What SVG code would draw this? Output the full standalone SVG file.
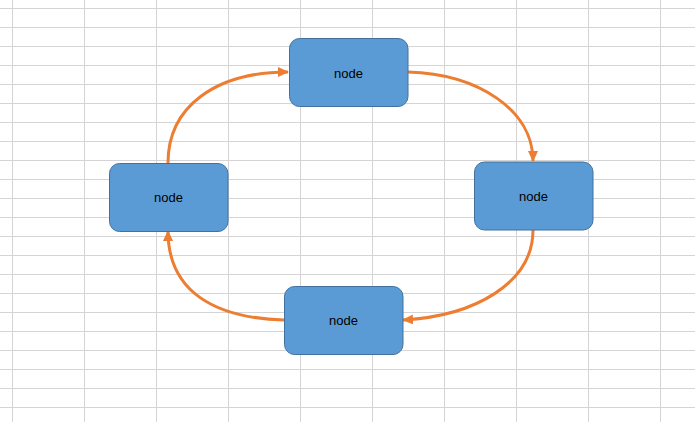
<svg xmlns="http://www.w3.org/2000/svg" width="695" height="422" viewBox="0 0 695 422">
<defs>
<style>
.grid line{stroke:#d4d4d4;stroke-width:1}
.node rect{fill:#5b9bd5;stroke:#41719c;stroke-width:1}
.node text{font-family:"Liberation Sans",Arial,sans-serif;font-size:13px;fill:#000;text-anchor:middle;dominant-baseline:central}
.conn path{fill:none;stroke:#ed7d31;stroke-width:3}
</style>
<marker id="ah" markerUnits="userSpaceOnUse" markerWidth="12" markerHeight="10" refX="10" refY="5" orient="auto">
<path d="M0,0 L11,5 L0,10 Z" fill="#ed7d31"/>
</marker>
</defs>
<rect width="695" height="422" fill="#ffffff"/>
<g class="grid">
<line x1="12.5" y1="0" x2="12.5" y2="422"/>
<line x1="84.5" y1="0" x2="84.5" y2="422"/>
<line x1="156.5" y1="0" x2="156.5" y2="422"/>
<line x1="228.5" y1="0" x2="228.5" y2="422"/>
<line x1="300.5" y1="0" x2="300.5" y2="422"/>
<line x1="372.5" y1="0" x2="372.5" y2="422"/>
<line x1="444.5" y1="0" x2="444.5" y2="422"/>
<line x1="516.5" y1="0" x2="516.5" y2="422"/>
<line x1="588.5" y1="0" x2="588.5" y2="422"/>
<line x1="660.5" y1="0" x2="660.5" y2="422"/>
<line x1="0" y1="8.5" x2="695" y2="8.5"/>
<line x1="0" y1="27.5" x2="695" y2="27.5"/>
<line x1="0" y1="46.5" x2="695" y2="46.5"/>
<line x1="0" y1="65.5" x2="695" y2="65.5"/>
<line x1="0" y1="84.5" x2="695" y2="84.5"/>
<line x1="0" y1="103.5" x2="695" y2="103.5"/>
<line x1="0" y1="122.5" x2="695" y2="122.5"/>
<line x1="0" y1="141.5" x2="695" y2="141.5"/>
<line x1="0" y1="160.5" x2="695" y2="160.5"/>
<line x1="0" y1="179.5" x2="695" y2="179.5"/>
<line x1="0" y1="198.5" x2="695" y2="198.5"/>
<line x1="0" y1="217.5" x2="695" y2="217.5"/>
<line x1="0" y1="236.5" x2="695" y2="236.5"/>
<line x1="0" y1="255.5" x2="695" y2="255.5"/>
<line x1="0" y1="274.5" x2="695" y2="274.5"/>
<line x1="0" y1="293.5" x2="695" y2="293.5"/>
<line x1="0" y1="312.5" x2="695" y2="312.5"/>
<line x1="0" y1="331.5" x2="695" y2="331.5"/>
<line x1="0" y1="350.5" x2="695" y2="350.5"/>
<line x1="0" y1="369.5" x2="695" y2="369.5"/>
<line x1="0" y1="388.5" x2="695" y2="388.5"/>
<line x1="0" y1="407.5" x2="695" y2="407.5"/>
</g>
<g id="connectors" class="conn">
<path d="M168,163 C168,107 215,72 288,72" stroke-width="3.5" marker-end="url(#ah)"/>
<path d="M408,72 C478,74 533,110 533,161" stroke-width="2.5" marker-end="url(#ah)"/>
<path d="M533,230 C533,283 475,316 403,320" stroke-width="2.5" marker-end="url(#ah)"/>
<path d="M284,320 C215,318 168,292 168,231" stroke-width="2.5" marker-end="url(#ah)"/>
</g>
<g id="node-top" class="node"><rect x="289.5" y="38.5" width="118.5" height="68" rx="10"/><text x="348.5" y="73">node</text></g>
<g id="node-right" class="node"><rect x="474.5" y="162" width="118.5" height="68" rx="10"/><text x="533.5" y="196.5">node</text></g>
<g id="node-bottom" class="node"><rect x="284.5" y="286.5" width="118.5" height="68" rx="10"/><text x="343.5" y="320.5">node</text></g>
<g id="node-left" class="node"><rect x="109.5" y="163.5" width="118.5" height="68" rx="10"/><text x="168.5" y="197.5">node</text></g>
</svg>
